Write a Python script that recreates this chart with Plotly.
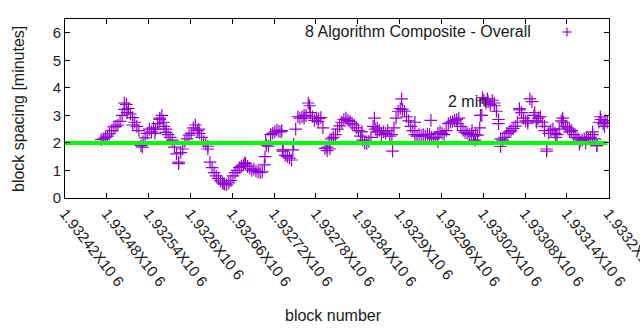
import plotly.graph_objects as go

# Block spacing (minutes) sampled every 3 blocks starting at block 1932472
first_block = 1932472
block_step = 3
spacing = [
    2.12, 2.15, 2.2, 2.25, 2.33, 2.45, 2.58, 2.6, 2.65, 2.78,
    3.0, 3.22, 3.4, 3.25, 3.05, 2.92, 2.75, 2.6, 2.45, 1.9,
    2.05, 2.18, 2.35, 2.5, 2.4, 2.55, 2.5, 2.7, 2.85, 3.0,
    2.6, 2.38, 2.3, 2.2, 2.1, 1.85, 1.6, 1.3, 1.65, 1.78,
    2.05, 2.15, 2.28, 2.35, 2.55, 2.65, 2.45, 2.35, 2.2, 2.05,
    1.95, 1.78, 1.3, 1.1, 0.92, 0.8, 0.7, 0.62, 0.55, 0.5,
    0.48, 0.55, 0.63, 0.8, 0.92, 1.0, 1.1, 1.15, 1.2, 1.25,
    1.15, 1.08, 1.0, 1.05, 0.98, 0.95, 0.92, 0.95, 1.2, 1.92,
    1.88, 2.3, 2.35, 2.4, 2.47, 2.42, 2.4, 1.7, 1.55, 1.5,
    1.45, 1.38, 1.95, 2.5, 2.95, 2.9, 2.95, 2.9, 3.0, 3.45,
    3.1, 2.95, 2.82, 2.9, 2.88, 2.92, 2.55, 1.8, 1.85, 2.05,
    2.15, 2.2, 2.3, 2.5, 2.62, 2.75, 2.85, 2.9, 2.82, 2.78,
    2.7, 2.65, 2.55, 2.45, 2.25, 2.1, 2.0, 1.98, 2.05, 2.2,
    2.6, 2.5, 2.4, 2.45, 2.3, 2.4, 2.35, 2.45, 2.25, 2.3,
    2.55, 2.9, 3.15, 3.25, 3.22, 3.15, 2.95, 2.8, 2.6, 2.45,
    2.3, 2.25, 2.3, 2.28, 2.3, 2.25, 2.32, 2.3, 2.2, 2.15,
    2.2, 2.35, 2.4, 2.35, 2.3, 2.45, 2.7, 2.75, 2.78, 2.82,
    2.85, 2.9, 2.6, 2.45, 2.38, 2.35, 2.3, 2.32, 2.25, 2.3,
    2.28, 2.55, 3.0, 3.55, 3.45, 3.5, 3.4, 3.55, 3.45, 3.15,
    2.7, 2.15, 2.1, 2.2, 2.35, 2.4, 2.45, 2.52, 2.6, 2.75,
    3.25, 3.1, 2.9, 2.8, 2.72, 3.6, 3.5, 3.0, 2.8, 2.9,
    2.95, 2.75, 2.45, 1.78, 2.35, 2.45, 2.5, 2.35, 2.3, 2.5,
    2.8, 2.75, 2.6, 2.55, 2.5, 2.45, 2.3, 2.2, 2.15, 2.05,
    2.1, 2.15, 2.2, 2.15, 2.2, 2.3, 2.15, 1.9, 2.75, 2.85,
    2.7, 2.8, 2.75,
]

# Additional individual blocks that stray from the running trend
extra_blocks = [
    1932505, 1932509, 1932517, 1932531, 1932549, 1932556, 1932561, 1932565,
    1932583, 1932612, 1932625, 1932648, 1932678, 1932707, 1932708, 1932731,
    1932732, 1932747, 1932763, 1932771, 1932783, 1932796, 1932800, 1932846,
    1932864, 1932868, 1932890, 1932903, 1932922, 1932945, 1932955, 1932983,
    1933004, 1933008, 1933016, 1933019, 1933026, 1933036, 1933042, 1933045,
    1933072, 1933084, 1933094, 1933097, 1933108, 1933111, 1933124, 1933134,
    1933144, 1933158, 1933167, 1933177, 1933183, 1933188, 1933194,
]
extra_spacing = [
    3.45, 3.1, 2.65, 1.85, 2.35, 2.9, 2.75, 2.5,
    1.25, 2.5, 1.88, 0.52, 1.28, 1.5, 2.05, 2.45,
    1.75, 1.75, 3.0, 3.35, 2.78, 1.72, 1.78, 2.4,
    2.9, 2.55, 1.7, 3.6, 2.75, 2.82, 2.05, 2.7,
    2.45, 2.1, 3.0, 3.65, 3.6, 3.35, 2.85, 1.87,
    3.2, 2.8, 3.1, 2.75, 2.6, 1.7, 2.2, 2.9,
    2.4, 1.95, 2.0, 2.4, 1.9, 2.95, 2.6,
]

x_start = 1932420
x_end = 1933200
tick_step = 60
target_minutes = 2
target_label_block = 1932966
target_label_y = 3.5

blocks = [first_block + block_step * i for i in range(len(spacing))]
all_blocks = blocks + extra_blocks
all_spacing = spacing + extra_spacing

tick_vals = list(range(x_start, x_end + 1, tick_step))
tick_text = [f"{v / 1e6:g}X10 6" for v in tick_vals]

purple = "#9400d3"
font = "Liberation Sans, Arial, sans-serif"
text_color = "#1a1a1a"

# plot area in pixels
W, H = 640, 330
L, R, T, B = 65, 31, 19, 132
w_plot = W - L - R
h_plot = H - T - B


def px_x(px):
    return (px - L) / w_plot


def px_y(py):
    return (H - B - py) / h_plot


fig = go.Figure()
fig.add_trace(go.Scatter(
    x=all_blocks, y=all_spacing, mode="markers",
    marker=dict(symbol="cross-thin", size=9, line=dict(color=purple, width=1.2)),
    name="8 Algorithm Composite - Overall", showlegend=False,
))
fig.add_trace(go.Scatter(
    x=[x_start, x_end - 2], y=[target_minutes, target_minutes], mode="lines",
    line=dict(color="#00ff00", width=4), showlegend=False,
))

axis_common = dict(
    showline=True, linecolor="black", linewidth=1, mirror="ticks",
    ticks="inside", ticklen=5, tickcolor="black", showgrid=False,
    zeroline=False, automargin=False,
    tickfont=dict(family=font, size=15, color=text_color),
)

fig.update_xaxes(
    range=[x_start, x_end + 0.5], tickvals=tick_vals, ticktext=tick_text,
    tickangle=52, ticklabeloverflow="allow", **axis_common,
)
fig.update_yaxes(range=[0, 6.5], tickvals=list(range(0, 7)), **axis_common)

title_font = dict(family=font, size=16, color=text_color)
fig.add_annotation(
    x=px_x(333), y=px_y(315), xref="x domain", yref="y domain",
    text="block number", showarrow=False, font=title_font,
    xanchor="center", yanchor="middle",
)
fig.add_annotation(
    x=px_x(18), y=px_y(109), xref="x domain", yref="y domain",
    text="block spacing [minutes]", textangle=-90, showarrow=False, font=title_font,
    xanchor="center", yanchor="middle",
)

# Key entry: label followed by its sample symbol
fig.add_annotation(
    x=px_x(533), y=px_y(32), xref="x domain", yref="y domain",
    text="8 Algorithm Composite - Overall", showarrow=False, font=title_font,
    xanchor="right", yanchor="middle",
)
lx, ly = px_x(567), px_y(32)
dx, dy = 4.5 / w_plot, 4.5 / h_plot
for x0, y0, x1, y1 in [(lx - dx, ly, lx + dx, ly), (lx, ly - dy, lx, ly + dy)]:
    fig.add_shape(type="line", xref="x domain", yref="y domain",
                  x0=x0, y0=y0, x1=x1, y1=y1, line=dict(color=purple, width=1.2))

fig.add_annotation(
    x=target_label_block, y=target_label_y, xref="x", yref="y", text="2 min",
    xanchor="left", showarrow=False, font=title_font,
)

fig.update_layout(
    width=W, height=H, margin=dict(l=L, r=R, t=T, b=B, autoexpand=False),
    plot_bgcolor="white", paper_bgcolor="white",
)

fig.write_html("out.html")
